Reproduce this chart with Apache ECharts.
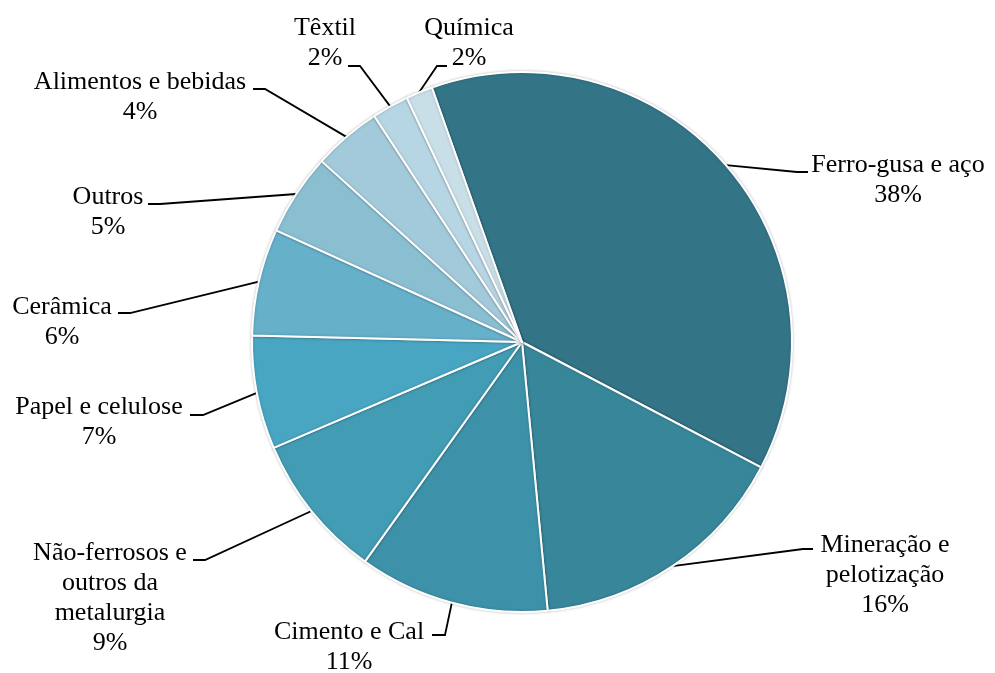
<!DOCTYPE html>
<html>
<head>
<meta charset="utf-8">
<script src="https://cdn.jsdelivr.net/npm/echarts@6/dist/echarts.min.js"></script>
<style>
html,body{margin:0;padding:0;background:#fff;}
#chart{width:995px;height:673px;}
</style>
</head>
<body>
<div id="chart"></div>
<script>
// ---- data ----
var categories = [
  'Ferro-gusa e aço',
  'Mineração e\npelotização',
  'Cimento e Cal',
  'Não-ferrosos e\noutros da\nmetalurgia',
  'Papel e celulose',
  'Cerâmica',
  'Outros',
  'Alimentos e bebidas',
  'Têxtil',
  'Química'
];
var shares = [38.1, 15.8, 11.4, 8.7, 6.8, 6.4, 4.9, 4.1, 2.2, 1.6];
var colors = ['#337487', '#388699', '#3d91a9', '#429cb4', '#49a6c2', '#66b0ca', '#8abfd2', '#a3cada', '#b7d6e3', '#c9dfe8'];

// ---- label placement (layout only): [centerX, firstLineCenterY, elbowX, elbowY, endX, endY]
var labelPlace = [
  [898, 165, 797, 172, 808, 172],
  [885, 545, 803, 549, 813, 549],
  [349, 632, 445, 635, 432, 635],
  [110, 553, 205, 560, 193, 560],
  [99, 407, 203, 415, 190, 415],
  [62, 307, 130, 313, 118, 313],
  [108, 197, 160, 204, 148, 204],
  [140, 82, 265, 89, 253, 89],
  [325, 28, 360, 66, 348, 66],
  [469, 28, 437, 66, 447, 66]
];
var LINE_H = 30;

var chart = echarts.init(document.getElementById('chart'), null, {renderer: 'canvas'});
var data = categories.map(function (c, i) {
  return {name: c, value: shares[i], itemStyle: {color: colors[i]}};
});

chart.setOption({
  backgroundColor: '#ffffff',
  animation: false,
  series: [{
    type: 'pie',
    center: [522, 342],
    radius: 270,
    startAngle: 109.5,
    clockwise: true,
    avoidLabelOverlap: false,
    data: data,
    itemStyle: {
      borderColor: '#ffffff',
      borderWidth: 2,
      shadowColor: 'rgba(0,0,0,0.22)',
      shadowBlur: 3
    },
    label: {
      show: true,
      position: 'outside',
      fontFamily: '"Liberation Serif", "Times New Roman", serif',
      fontSize: 26,
      lineHeight: LINE_H,
      color: '#000000',
      align: 'center',
      formatter: function (p) {
        return p.name + '\n' + Math.round(p.percent) + '%';
      }
    },
    labelLine: {
      show: true,
      length: 20,
      length2: 20,
      smooth: false,
      lineStyle: {color: '#000000', width: 1.8}
    },
    labelLayout: function (params) {
      var lp = labelPlace[params.dataIndex];
      var pts = params.labelLinePoints;
      var start = pts ? pts[0] : [lp[2], lp[3]];
      return {
        x: lp[0],
        y: lp[1] - LINE_H / 2,
        align: 'center',
        verticalAlign: 'top',
        hideOverlap: false,
        labelLinePoints: [start, [lp[2], lp[3]], [lp[4], lp[5]]]
      };
    },
    emphasis: {disabled: true}
  }]
});
</script>
</body>
</html>
